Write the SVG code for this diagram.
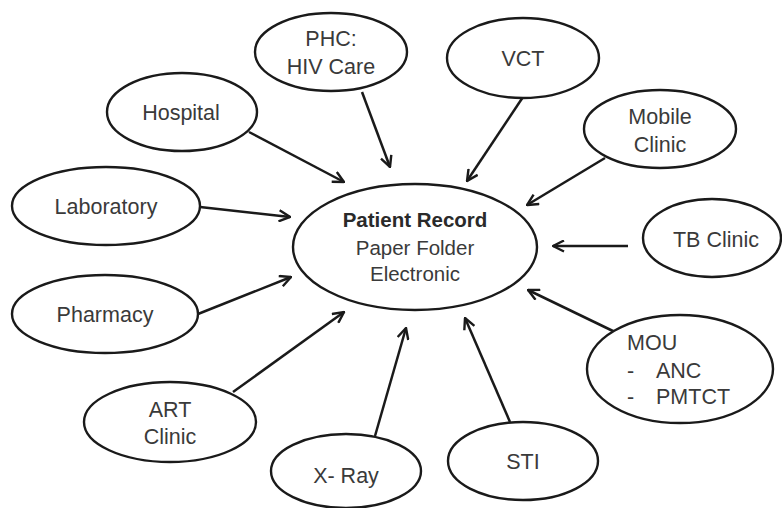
<svg xmlns="http://www.w3.org/2000/svg" width="782" height="508" viewBox="0 0 782 508">
  <defs>
    <style>
      .node ellipse { fill: #ffffff; stroke: #1a1a1a; stroke-width: 2.4; }
      .node text { font-family: "Liberation Sans", Arial, sans-serif; font-size: 21.5px; fill: #3a3a3a; text-anchor: middle; }
      #patient-record text { font-size: 20.5px; }
      .node text.bold { font-weight: bold; fill: #2a2a2a; }
      .node text.left { text-anchor: start; }
      #connectors line { stroke: #1a1a1a; stroke-width: 2.5; marker-end: url(#arrow); }
    </style>
    <marker id="arrow" viewBox="0 0 13 13" refX="12" refY="6.5" markerWidth="13" markerHeight="13" markerUnits="userSpaceOnUse" orient="auto">
      <path d="M1,1 L12,6.5 L1,12" fill="none" stroke="#1a1a1a" stroke-width="2.4" stroke-linejoin="miter"/>
    </marker>
  </defs>
  <rect width="782" height="508" fill="#ffffff"/>

  <g id="connectors">
    <line x1="249" y1="132" x2="344" y2="182"/>
    <line x1="200" y1="207" x2="290" y2="217"/>
    <line x1="198" y1="314" x2="291" y2="277"/>
    <line x1="233" y1="392" x2="344" y2="312"/>
    <line x1="375" y1="436" x2="406" y2="328"/>
    <line x1="510" y1="422" x2="465" y2="318"/>
    <line x1="362" y1="92" x2="390" y2="167"/>
    <line x1="523" y1="97" x2="467" y2="181"/>
    <line x1="605" y1="158" x2="527" y2="205"/>
    <line x1="628" y1="246" x2="553" y2="246"/>
    <line x1="615" y1="332" x2="528" y2="290"/>
  </g>

  <g id="patient-record" class="node">
    <ellipse cx="415" cy="247" rx="122" ry="63"/>
    <text class="bold" x="415" y="227">Patient Record</text>
    <text x="415" y="255">Paper Folder</text>
    <text x="415" y="281">Electronic</text>
  </g>

  <g id="hospital" class="node">
    <ellipse cx="182" cy="112" rx="75" ry="39"/>
    <text x="181" y="120">Hospital</text>
  </g>

  <g id="phc" class="node">
    <ellipse cx="331" cy="52" rx="76" ry="39"/>
    <text x="331" y="46">PHC:</text>
    <text x="331" y="74">HIV Care</text>
  </g>

  <g id="vct" class="node">
    <ellipse cx="523" cy="58" rx="76" ry="40"/>
    <text x="523" y="66">VCT</text>
  </g>

  <g id="mobile-clinic" class="node">
    <ellipse cx="660" cy="129" rx="76" ry="39"/>
    <text x="660" y="124">Mobile</text>
    <text x="660" y="152">Clinic</text>
  </g>

  <g id="tb-clinic" class="node">
    <ellipse cx="712" cy="238" rx="69" ry="39"/>
    <text x="716" y="247">TB Clinic</text>
  </g>

  <g id="mou" class="node">
    <ellipse cx="680" cy="369" rx="93" ry="54"/>
    <text class="left" x="627" y="350">MOU</text>
    <text class="left" x="627" y="378">-</text>
    <text class="left" x="656" y="378">ANC</text>
    <text class="left" x="627" y="404">-</text>
    <text class="left" x="656" y="404">PMTCT</text>
  </g>

  <g id="sti" class="node">
    <ellipse cx="523" cy="461" rx="75" ry="39"/>
    <text x="523" y="469">STI</text>
  </g>

  <g id="x-ray" class="node">
    <ellipse cx="346" cy="471" rx="75" ry="37"/>
    <text x="346" y="483">X- Ray</text>
  </g>

  <g id="art-clinic" class="node">
    <ellipse cx="170" cy="422" rx="86" ry="40"/>
    <text x="170" y="417">ART</text>
    <text x="170" y="444">Clinic</text>
  </g>

  <g id="pharmacy" class="node">
    <ellipse cx="105" cy="314" rx="93" ry="39"/>
    <text x="105" y="322">Pharmacy</text>
  </g>

  <g id="laboratory" class="node">
    <ellipse cx="106" cy="206" rx="94" ry="39"/>
    <text x="106" y="214">Laboratory</text>
  </g>
</svg>
